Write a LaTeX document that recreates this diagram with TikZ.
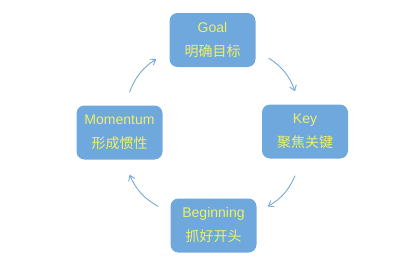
\documentclass[tikz,border=0pt]{standalone}
\usepackage{fontspec}
\setmainfont{Liberation Sans}
\newfontfamily\cjk{Noto Sans CJK SC}
\usepackage{xcolor}
\usepackage{tikz}
\usetikzlibrary{positioning, arrows.meta}

\definecolor{boxblue}{RGB}{111,168,220}
\definecolor{txtyellow}{RGB}{238,240,104}
\definecolor{arrowblue}{RGB}{118,168,212}

\begin{document}
\begin{tikzpicture}[
  x=1pt, y=1pt,
  font=\fontsize{14}{24}\selectfont,
  stage/.style={fill=boxblue, rounded corners=8pt, minimum width=86pt,
                minimum height=54pt, align=center, text=txtyellow},
  flow/.style={-{Straight Barb[length=5pt,width=7pt]}, line width=0.9pt,
               draw=arrowblue, bend left=18},
]
\useasboundingbox (0,0) rectangle (418,-265);
\node[stage] (goal) at (212.5,-40) {Goal\\{\cjk 明确目标}};
\node[stage] (key)  at (305,-131.5) {Key\\{\cjk 聚焦关键}};
\node[stage] (beg)  at (213.5,-225.5) {Beginning\\{\cjk 抓好开头}};
\node[stage] (mom)  at (119.5,-132.5) {Momentum\\{\cjk 形成惯性}};
\draw[flow] ([xshift=10pt,yshift=13pt]mom.north) to ([xshift=-13pt,yshift=-19pt]goal.west);
\draw[flow] ([xshift=13pt,yshift=-18pt]goal.east) to ([xshift=-10pt,yshift=13pt]key.north);
\draw[flow] ([xshift=-10pt,yshift=-17pt]key.south) to ([xshift=11pt,yshift=19pt]beg.east);
\draw[flow] ([xshift=-12pt,yshift=19pt]beg.west) to ([xshift=10pt,yshift=-15pt]mom.south);
\end{tikzpicture}
\end{document}
